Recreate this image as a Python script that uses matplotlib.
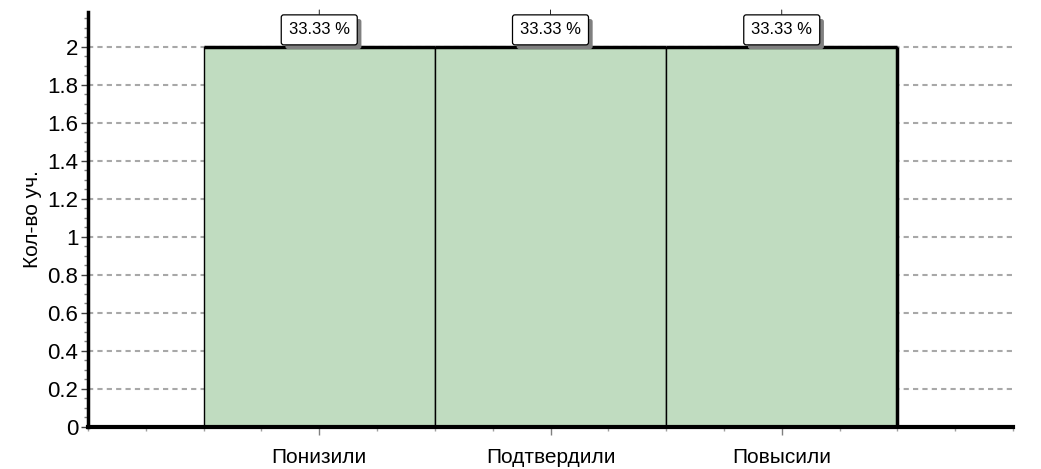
import matplotlib.pyplot as plt
import matplotlib.patheffects as pe
from matplotlib.ticker import MultipleLocator

categories = ['Понизили', 'Подтвердили', 'Повысили']
counts = [2, 2, 2]
y_label = 'Кол-во уч.'
y_ticks = [0, 0.2, 0.4, 0.6, 0.8, 1, 1.2, 1.4, 1.6, 1.8, 2]
y_tick_labels = ['0', '0.2', '0.4', '0.6', '0.8', '1', '1.2', '1.4', '1.6', '1.8', '2']

plt.rcParams['font.family'] = ['Liberation Sans', 'DejaVu Sans']

fig = plt.figure(figsize=(10.41, 4.69), dpi=100)
ax = fig.add_axes([88 / 1041, 1 - 427 / 469, 925 / 1041, 415 / 469])

x = list(range(len(categories)))
ax.bar(x, counts, width=1.0, color='#c0dcc0', edgecolor='black', linewidth=1, zorder=2)

# thick top outline and right edge, like the original chart
ax.hlines(counts, [i - 0.5 for i in x], [i + 0.5 for i in x], color='black', linewidth=2.5, zorder=3)
ax.vlines(x[-1] + 0.5, 0, counts[-1], color='black', linewidth=2.5, zorder=3)

total = sum(counts)
for i, c in zip(x, counts):
    t = ax.annotate(f'{c / total * 100:.2f} %', xy=(i, 2.195), xytext=(i, 2.09),
                    ha='center', va='center', fontsize=12, annotation_clip=False,
                    arrowprops=dict(arrowstyle='-', color='black', lw=0.6, shrinkA=0, shrinkB=0),
                    bbox=dict(boxstyle='round,pad=0.45,rounding_size=0.15', fc='white', ec='black', lw=0.9),
                    zorder=5)
    t.get_bbox_patch().set_path_effects([
        pe.SimplePatchShadow(offset=(3, -3), shadow_rgbFace='#808080', alpha=1), pe.Normal()])

ax.set_xlim(-1.0, 3.0)
ax.set_ylim(0, 2.184)
ax.set_xticks(x)
ax.set_xticklabels(categories, fontsize=15)
ax.xaxis.set_minor_locator(MultipleLocator(0.25))
ax.yaxis.set_minor_locator(MultipleLocator(0.05))
ax.set_yticks(y_ticks)
ax.set_yticklabels(y_tick_labels, fontsize=16)
ax.set_ylabel(y_label, fontsize=15, labelpad=4)

ax.tick_params(axis='y', which='major', length=5, width=1, color='#404040', pad=2)
ax.tick_params(axis='y', which='minor', length=3, width=1, color='#808080')
ax.tick_params(axis='x', which='major', length=6, width=1, color='#808080', pad=9)
ax.tick_params(axis='x', which='minor', length=3, width=1, color='#a0a0a0')

ax.grid(axis='y', which='major', color='#a8a8a8', linestyle=(0, (2.5, 2)), linewidth=1.5)
ax.set_axisbelow(True)

for s in ['top', 'right']:
    ax.spines[s].set_visible(False)
ax.spines['left'].set_linewidth(2.5)
ax.spines['bottom'].set_linewidth(3)
ax.spines['bottom'].set_zorder(4)

fig.savefig('out.png', dpi=100)
